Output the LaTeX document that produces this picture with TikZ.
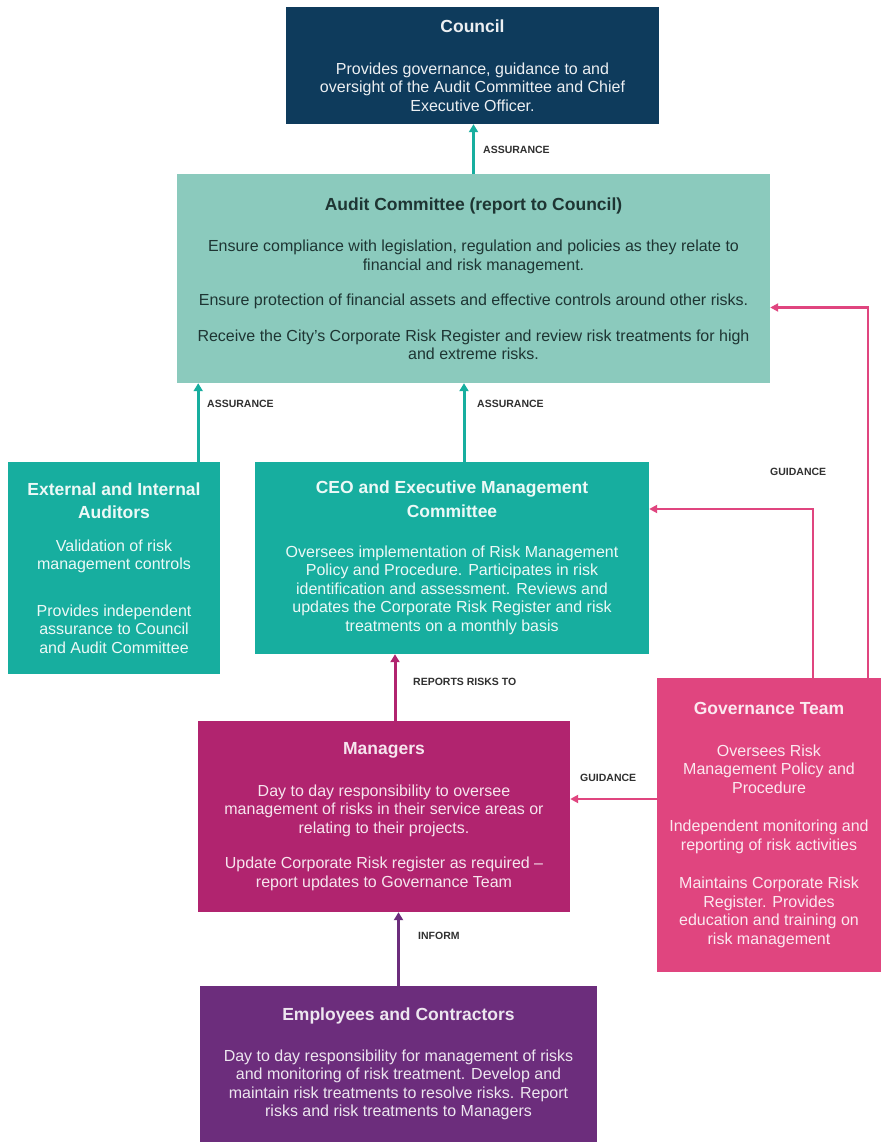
\documentclass[tikz,border=0pt]{standalone}
\usepackage{fontspec}
\setmainfont{Liberation Sans}
\usetikzlibrary{arrows.meta}

\definecolor{navy}{HTML}{0E3B5C}
\definecolor{auditgreen}{HTML}{8BCABD}
\definecolor{ceoteal}{HTML}{17AE9F}
\definecolor{mgrpink}{HTML}{B1246F}
\definecolor{govpink}{HTML}{E0457F}
\definecolor{emppurple}{HTML}{6C2D7C}
\definecolor{lblgray}{HTML}{303030}
\definecolor{audittext}{HTML}{1E3533}

\newcommand{\ttl}{\fontsize{17.5}{21}\selectfont\bfseries}

\begin{document}
\begin{tikzpicture}[x=1pt, y=-1pt,
	box/.style={rectangle, align=center, inner sep=0pt, font=\fontsize{16}{18.5}\selectfont},
	lbl/.style={anchor=west, inner sep=0pt, text=lblgray, font=\fontsize{10.5}{12}\selectfont\bfseries},
	up/.style={line width=3pt, -{Triangle[length=8pt,width=9pt]}},
	guide/.style={draw=govpink, line width=2.5pt, -{Triangle[length=8pt,width=8pt]}}]

	\useasboundingbox[fill=white] (0,0) rectangle (881,1142);

	% boxes
	\node[box, fill=navy, text=white!92!navy, minimum width=373pt, minimum height=117pt] (council) at (472.5,65.5)
		{{\ttl Council}\\[23pt]Provides governance, guidance to and\\oversight of the Audit Committee and Chief\\Executive Officer.};
	\node[box, fill=auditgreen, text=audittext, minimum width=593pt, minimum height=209pt] (audit) at (473.5,278.5)
		{{\ttl Audit Committee (report to Council)}\\[23pt]Ensure compliance with legislation, regulation and policies as they relate to\\financial and risk management.\\[17pt]Ensure protection of financial assets and effective controls around other risks.\\[17pt]Receive the City's Corporate Risk Register and review risk treatments for high\\and extreme risks.};
	\node[box, fill=ceoteal, text=white!92!ceoteal, minimum width=212pt, minimum height=212pt] (ext) at (114,568)
		{{\ttl External and Internal}\\[4.5pt]{\ttl Auditors}\\[14pt]Validation of risk\\management controls\\[28pt]Provides independent\\assurance to Council\\and Audit Committee};
	\node[box, fill=ceoteal, text=white!92!ceoteal, minimum width=394pt, minimum height=192pt] (ceo) at (452,558)
		{{\ttl CEO and Executive Management}\\[5.5pt]{\ttl Committee}\\[21pt]Oversees implementation of Risk Management\\Policy and Procedure. Participates in risk\\identification and assessment. Reviews and\\updates the Corporate Risk Register and risk\\treatments on a monthly basis};
	\node[box, fill=mgrpink, text=white!88!mgrpink, minimum width=372pt, minimum height=191pt] (mgr) at (384,816.5)
		{{\ttl Managers}\\[23pt]Day to day responsibility to oversee\\management of risks in their service areas or\\relating to their projects.\\[17pt]Update Corporate Risk register as required --\\report updates to Governance Team};
	\node[box, fill=govpink, text=white!88!govpink, minimum width=224pt, minimum height=294pt] (gov) at (769,825)
		{{\ttl Governance Team}\\[23pt]Oversees Risk\\Management Policy and\\Procedure\\[20pt]Independent monitoring and\\reporting of risk activities\\[20pt]Maintains Corporate Risk\\Register. Provides\\education and training on\\risk management};
	\node[box, fill=emppurple, text=white!88!emppurple, minimum width=397pt, minimum height=156pt] (emp) at (398.5,1064)
		{{\ttl Employees and Contractors}\\[22pt]Day to day responsibility for management of risks\\and monitoring of risk treatment. Develop and\\maintain risk treatments to resolve risks. Report\\risks and risk treatments to Managers};

	% connectors
	\draw[up, draw=ceoteal] (audit.north) -- (audit.north |- council.south);
	\draw[up, draw=ceoteal] ([xshift=-22pt]ext.north east) -- ([xshift=-22pt]ext.north east |- audit.south);
	\draw[up, draw=ceoteal] ([xshift=12pt]ceo.north) -- ([xshift=12pt]ceo.north |- audit.south);
	\draw[up, draw=mgrpink] ([xshift=11pt]mgr.north) -- ([xshift=11pt]mgr.north |- ceo.south);
	\draw[up, draw=emppurple] (emp.north) -- (emp.north |- mgr.south);

	\draw[guide] ([yshift=26pt]gov.west) -- ([yshift=26pt]gov.west -| mgr.east);
	\draw[guide] ([xshift=44pt]gov.north) |- ([yshift=49pt]ceo.east);
	\draw[guide] ([xshift=-13pt]gov.north east) |- ([yshift=-29pt]audit.east);

	% labels
	\node[lbl] (assure-top) at (483,150) {ASSURANCE};
	\node[lbl] (assure-ext) at (207,404) {ASSURANCE};
	\node[lbl] (assure-ceo) at (477,404) {ASSURANCE};
	\node[lbl] (reports) at (413,682) {REPORTS RISKS TO};
	\node[lbl] (guide-top) at (770,472) {GUIDANCE};
	\node[lbl] (guide-mgr) at (580,778) {GUIDANCE};
	\node[lbl] (inform) at (418,936) {INFORM};
\end{tikzpicture}
\end{document}
